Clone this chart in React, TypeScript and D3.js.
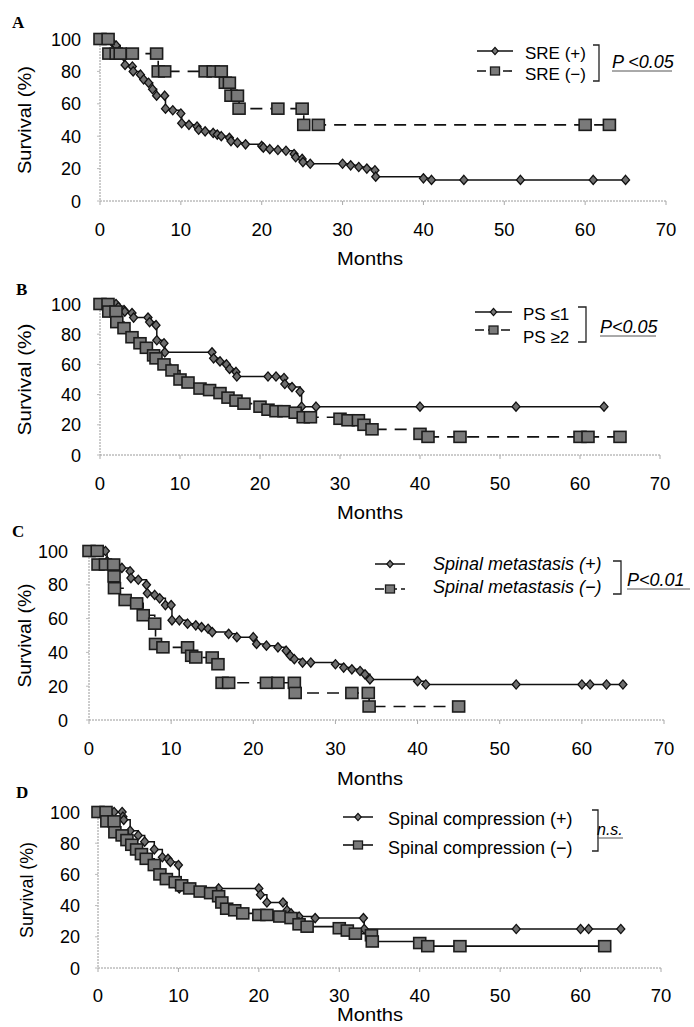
import React, { useEffect, useRef } from 'react';
import * as d3 from 'd3';

const monthTicks = [0, 10, 20, 30, 40, 50, 60, 70];
const survivalTicks = [0, 20, 40, 60, 80, 100];

// A: SRE
const sreLabels = ['SRE (+)', 'SRE (\u2212)'];
const srePos = [
  [0, 100], [1, 100], [1.5, 98], [2, 96], [2.5, 91], [3, 89], [3.1, 84], [4, 83], [4.1, 80], [5, 78],
  [5.4, 75], [6, 73], [6.5, 69], [7, 65], [8, 65], [8.1, 57], [9, 56], [10, 54], [10.1, 48], [11, 47],
  [12, 46], [12.2, 44], [13, 43], [14, 42], [14.5, 41], [15, 40], [16, 39], [16.2, 37], [17, 36], [18, 35],
  [20, 34], [20.2, 33], [21, 32], [22, 31.5], [23, 31], [24, 29], [24.2, 27], [25, 26], [25.1, 24], [26, 23],
  [30, 23], [31, 22], [32, 21], [33, 20], [34, 19], [34.1, 15], [40, 14], [41, 13], [45, 13], [52, 13],
  [61, 13], [65, 13],
];
const sreNeg = [
  [0, 100], [1, 100], [1.1, 91], [2, 91], [2.5, 91], [4, 91], [7, 91], [7.2, 80], [8, 80], [13, 80],
  [14, 80], [15, 80], [15.5, 73], [16, 73], [16.2, 65], [17, 65], [17.2, 57], [22, 57], [25, 57], [25.2, 47],
  [27, 47], [60, 47], [63, 47],
];

// B: performance status
const psLabels = ['PS \u22641', 'PS \u22652'];
const psLow = [
  [0, 100], [1, 100], [2, 100], [2.3, 98], [3, 96], [3.1, 95], [4, 94], [4.2, 91], [6, 91], [6.2, 88],
  [7, 86], [7.1, 76], [8, 74], [8.1, 68], [14, 68], [14.2, 64], [15, 62], [15.8, 60], [16.2, 57], [17, 55],
  [17.1, 52], [21, 52], [22, 52], [23, 51], [23.1, 47], [24, 45], [25, 42], [25.2, 32], [27, 32], [40, 32],
  [52, 32], [63, 32],
];
const psHigh = [
  [0, 100], [1, 100], [1.1, 95], [2, 95], [2.1, 88], [3, 84], [4, 78], [5, 74], [5.8, 71], [6.7, 66],
  [7, 64], [8, 60], [9, 56], [10, 50], [11, 48], [12.5, 44], [13.7, 43], [15, 41], [16, 38], [17, 36],
  [18, 34], [20, 32], [21, 30], [22, 29], [23, 29], [24.4, 28], [25.4, 25], [26.3, 25], [30, 24], [31, 23],
  [32.3, 23], [33, 20], [34, 17], [40, 14], [41, 12], [45, 12], [60, 12], [61, 12], [65, 12],
];

// C: spinal metastasis
const metLabels = ['Spinal metastasis (+)', 'Spinal metastasis (\u2212)'];
const metPos = [
  [0, 100], [1, 100], [2, 100], [2.2, 94], [3, 92], [4, 90], [5, 88], [5.1, 84], [6, 83], [7, 80],
  [7.1, 75], [8, 74], [8.6, 72], [9.3, 68], [10, 68], [10.1, 59], [11, 59], [12, 57], [13, 56], [13.7, 55],
  [14.5, 54], [15, 52], [17, 51], [18, 49], [20, 49], [20.4, 45], [21.6, 44], [23, 43], [24, 41], [24.5, 38],
  [25, 36], [26, 34], [27, 34], [30, 33], [31, 31], [32, 30], [33, 29], [33.6, 27], [34.2, 24], [40, 23],
  [41, 21], [52, 21], [60, 21], [61, 21], [63, 21], [65, 21],
];
const metNeg = [
  [0, 100], [1, 100], [1.1, 92], [2, 92], [3, 92], [3.05, 85], [3.1, 78], [4.4, 71], [5.8, 69], [6.6, 62],
  [8, 57], [8.1, 45], [9, 43], [12, 43], [12.5, 38], [13, 37], [15, 37], [15.7, 33], [16.2, 22], [17, 22],
  [21.6, 22], [23, 22], [25, 22], [25.1, 16], [32, 16], [34, 16], [34.1, 8], [45, 8],
];

// D: spinal compression
const compLabels = ['Spinal compression (+)', 'Spinal compression (\u2212)'];
const compPos = [
  [0, 100], [1, 100], [2, 100], [3, 100], [3.1, 97], [3.2, 95], [4, 88], [5, 85], [5.8, 81], [7, 76],
  [8, 71], [8.7, 70], [9, 68], [10, 66], [10.1, 51], [15, 51], [20, 51], [20.2, 47], [21, 42], [23, 42],
  [23.5, 37], [24, 35], [25, 33], [27, 32], [33, 32], [33.1, 25], [52, 25], [60, 25], [61, 25], [65, 25],
];
const compNeg = [
  [0, 100], [1, 100], [1.1, 94], [2, 94], [2.1, 87], [3, 85], [3.6, 82], [4.2, 79], [4.8, 76], [5.4, 73],
  [6, 70], [7, 66], [7.7, 60], [8.5, 57], [9.6, 55], [10.4, 53], [11.4, 51], [12.7, 49], [14, 48], [15, 46],
  [15.4, 42], [16, 38], [17, 37], [18, 35], [20, 34], [21, 34], [22.6, 33], [24, 32], [25, 28], [26, 26.5],
  [30, 25.5], [31, 24], [32, 22], [34, 21], [34.1, 17], [40, 16], [41, 14], [45, 14], [63, 14],
];

const pTexts = ['P <0.05', 'P<0.05', 'P<0.01', 'n.s.'];

const SANS = '"Liberation Sans", Arial, sans-serif';

// where each panel sits on the page
const panels = [
  {
    letter: 'A', letterX: 12, letterY: 28,
    x0: 100, x1: 666, yTop: 39, yBot: 201,
    yLabelRight: 81, yTitleX: 31, yTitleLen: 108,
    tickBase: 236, monthsBase: 265,
    series: [srePos, sreNeg], labels: sreLabels, secondDashed: true,
    leg: { x0: 477, x1: 513, rows: [51, 71], textX: 525, textBase: [59, 80], italic: false, fs: 17 },
    bracket: [593, 599, 45, 81],
    p: { text: pTexts[0], x: 612, y: 68, w: 60, fs: 18 },
  },
  {
    letter: 'B', letterX: 16, letterY: 295,
    x0: 100, x1: 660, yTop: 304, yBot: 455,
    yLabelRight: 81, yTitleX: 31, yTitleLen: 112,
    tickBase: 490, monthsBase: 519,
    series: [psLow, psHigh], labels: psLabels, secondDashed: true,
    leg: { x0: 475, x1: 512, rows: [312, 330], textX: 523, textBase: [320, 343], italic: false, fs: 17 },
    bracket: [578, 586, 307, 342],
    p: { text: pTexts[1], x: 600, y: 333, w: 56, fs: 18 },
  },
  {
    letter: 'C', letterX: 12, letterY: 537,
    x0: 89, x1: 664, yTop: 551, yBot: 720,
    yLabelRight: 68, yTitleX: 31, yTitleLen: 104,
    tickBase: 755, monthsBase: 785,
    series: [metPos, metNeg], labels: metLabels, secondDashed: true,
    leg: { x0: 375, x1: 405, rows: [564, 589], textX: 433, textBase: [570, 593], italic: true, fs: 18 },
    bracket: [613, 621, 561, 594],
    p: { text: pTexts[2], x: 627, y: 586, w: 63, fs: 18 },
  },
  {
    letter: 'D', letterX: 16, letterY: 798,
    x0: 98, x1: 661, yTop: 812, yBot: 968,
    yLabelRight: 80, yTitleX: 33, yTitleLen: 96,
    tickBase: 1002, monthsBase: 1021,
    series: [compPos, compNeg], labels: compLabels, secondDashed: false,
    leg: { x0: 343, x1: 373, rows: [817, 845], textX: 388, textBase: [825, 854], italic: false, fs: 18 },
    bracket: [592, 598, 810, 851],
    p: { text: pTexts[3], x: 597, y: 835, w: 26, fs: 16 },
  },
];

const diamondPath = (cx, cy, r) => `M${cx},${cy - r * 1.15}L${cx + r},${cy}L${cx},${cy + r * 1.15}L${cx - r},${cy}Z`;

function drawPanel(svg, p) {
  const g = svg.append('g');
  const x = d3.scaleLinear().domain([0, 70]).range([p.x0, p.x1]);
  const y = d3.scaleLinear().domain([0, 100]).range([p.yBot, p.yTop]);

  g.append('text')
    .attr('x', p.letterX).attr('y', p.letterY)
    .attr('font-family', '"Liberation Serif", "Times New Roman", serif')
    .attr('font-weight', 'bold').attr('font-size', 17)
    .text(p.letter);

  // axes (light dotted, like the scan)
  g.append('line')
    .attr('x1', x(0)).attr('x2', x(0)).attr('y1', y(100)).attr('y2', y(0))
    .attr('stroke', '#9a9a9a').attr('stroke-dasharray', '2,1');
  g.append('line')
    .attr('x1', x(0)).attr('x2', x(70)).attr('y1', y(0)).attr('y2', y(0))
    .attr('stroke', '#9a9a9a').attr('stroke-dasharray', '2,1');

  monthTicks.forEach(t => {
    g.append('line')
      .attr('x1', x(t)).attr('x2', x(t)).attr('y1', y(0)).attr('y2', y(0) + 4)
      .attr('stroke', '#aaa');
    g.append('text')
      .attr('x', x(t)).attr('y', p.tickBase)
      .attr('text-anchor', 'middle').attr('font-family', SANS).attr('font-size', 18.5)
      .text(t);
  });

  survivalTicks.forEach(t => {
    g.append('line')
      .attr('x1', x(0) - 3).attr('x2', x(0)).attr('y1', y(t)).attr('y2', y(t))
      .attr('stroke', '#bbb');
    g.append('text')
      .attr('x', p.yLabelRight).attr('y', y(t) + 6.5)
      .attr('text-anchor', 'end').attr('font-family', SANS).attr('font-size', 18)
      .text(t);
  });

  g.append('text')
    .attr('transform', `translate(${p.yTitleX},${(y(0) + y(100)) / 2}) rotate(-90)`)
    .attr('text-anchor', 'middle').attr('font-family', SANS).attr('font-size', 18)
    .attr('textLength', p.yTitleLen).attr('lengthAdjust', 'spacingAndGlyphs')
    .text('Survival (%)');

  g.append('text')
    .attr('x', 370).attr('y', p.monthsBase)
    .attr('text-anchor', 'middle').attr('font-family', SANS).attr('font-size', 19)
    .attr('textLength', 66).attr('lengthAdjust', 'spacingAndGlyphs')
    .text('Months');

  const line = d3.line().x(d => x(d[0])).y(d => y(d[1])).curve(d3.curveStepAfter);

  // solid series with diamonds
  const [first, second] = p.series;
  g.append('path').attr('d', line(first))
    .attr('fill', 'none').attr('stroke', '#111').attr('stroke-width', 1.5);
  g.selectAll(null).data(first).join('path')
    .attr('d', d => diamondPath(x(d[0]), y(d[1]), 4))
    .attr('fill', '#6e6e6e').attr('stroke', '#111').attr('stroke-width', 1.3);

  // second series with grey squares
  g.append('path').attr('d', line(second))
    .attr('fill', 'none').attr('stroke', '#111').attr('stroke-width', 1.6)
    .attr('stroke-dasharray', p.secondDashed ? '12,8' : null);
  g.selectAll(null).data(second).join('rect')
    .attr('x', d => x(d[0]) - 6).attr('y', d => y(d[1]) - 5.5)
    .attr('width', 12).attr('height', 11)
    .attr('fill', '#7a7a7a').attr('stroke', '#1c1c1c').attr('stroke-width', 1.6);

  // legend
  const L = p.leg;
  const mid = (L.x0 + L.x1) / 2;
  g.append('line')
    .attr('x1', L.x0).attr('x2', L.x1).attr('y1', L.rows[0]).attr('y2', L.rows[0])
    .attr('stroke', '#111').attr('stroke-width', 1.5);
  g.append('path').attr('d', diamondPath(mid, L.rows[0], 3.2))
    .attr('fill', '#777').attr('stroke', '#111').attr('stroke-width', 1.2);
  g.append('line')
    .attr('x1', L.x0).attr('x2', L.x1).attr('y1', L.rows[1]).attr('y2', L.rows[1])
    .attr('stroke', '#111').attr('stroke-width', 1.6)
    .attr('stroke-dasharray', p.secondDashed ? '9,4' : null);
  g.append('rect')
    .attr('x', mid - 4.5).attr('y', L.rows[1] - 4).attr('width', 9).attr('height', 8)
    .attr('fill', '#7a7a7a').attr('stroke', '#1c1c1c').attr('stroke-width', 1.3);

  p.labels.forEach((lab, i) => {
    g.append('text')
      .attr('x', L.textX).attr('y', L.textBase[i])
      .attr('font-family', SANS).attr('font-size', L.fs)
      .attr('font-style', L.italic ? 'italic' : 'normal')
      .text(lab);
  });

  const [bx0, bx1, by0, by1] = p.bracket;
  g.append('path')
    .attr('d', `M${bx0},${by0}H${bx1}V${by1}H${bx0}`)
    .attr('fill', 'none').attr('stroke', '#222').attr('stroke-width', 1.3);

  g.append('text')
    .attr('x', p.p.x).attr('y', p.p.y)
    .attr('font-family', SANS).attr('font-size', p.p.fs).attr('font-style', 'italic')
    .text(p.p.text);
  g.append('line')
    .attr('x1', p.p.x).attr('x2', p.p.x + p.p.w).attr('y1', p.p.y + 3).attr('y2', p.p.y + 3)
    .attr('stroke', '#555').attr('stroke-width', 1);
}

export default function App() {
  const svgRef = useRef(null);

  useEffect(() => {
    const svg = d3.select(svgRef.current);
    svg.selectAll('*').remove();
    panels.forEach(p => drawPanel(svg, p));
  }, []);

  return (
    <svg
      ref={svgRef}
      width={694}
      height={1027}
      style={{ position: 'absolute', left: 0, top: 0, background: '#fff' }}
    />
  );
}
